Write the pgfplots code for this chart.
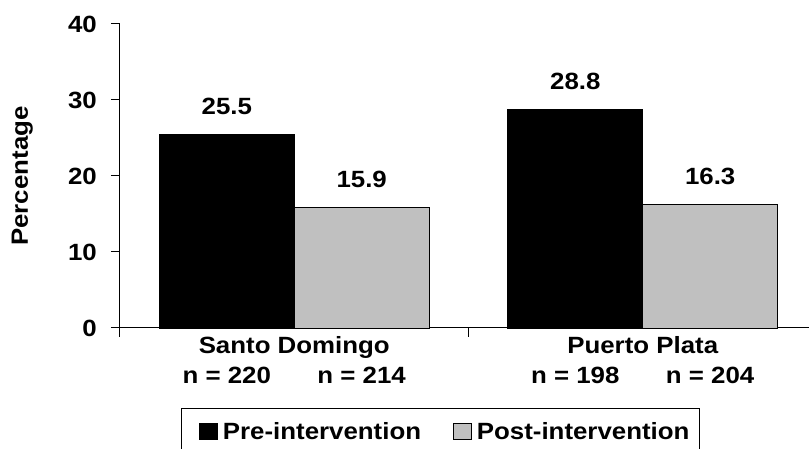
\documentclass[border=0pt]{standalone}
\usepackage{pgfplots}
\pgfplotsset{compat=1.18}
\usepackage{fontspec}
\setmainfont{Liberation Sans}[FakeStretch=1.1]
\definecolor{postgray}{HTML}{C0C0C0}
\newcommand{\lf}{\fontsize{23.5}{28}\selectfont\bfseries}
\begin{document}
\begin{tikzpicture}
\begin{axis}[
  at={(0pt,0pt)}, anchor=south west,
  scale only axis, width=697pt, height=304pt,
  xmin=-0.5, xmax=1.5, ymin=0, ymax=40,
  clip=false,
  axis lines=left, axis line style={-, line width=1pt},
  tick align=outside, major tick length=9pt,
  tick style={line width=1pt, black},
  ytick={0,10,20,30,40},
  yticklabel style={font=\lf, inner sep=0pt, xshift=-14pt},
  xtick={-0.5,0.5,1.5}, xticklabels={},
  extra x ticks={0,1}, extra x tick labels={Santo Domingo, Puerto Plata},
  extra x tick style={major tick length=0pt},
  xticklabel style={font=\lf, anchor=base, inner sep=0pt, yshift=-26pt},
  ylabel={Percentage},
  ylabel style={font=\lf, inner sep=0pt, at={(axis description cs:-0.1248,0.5)}, anchor=south, rotate=0},
  /pgf/number format/assume math mode=true,
  ybar=0pt, bar width=0.387,
  nodes near coords,
  nodes near coords={\pgfmathprintnumber[fixed, fixed zerofill, precision=1]{\pgfplotspointmeta}},
  every node near coord/.append style={font=\lf, anchor=base, yshift=20pt, inner sep=0pt},
  legend columns=2,
  legend style={at={(axis description cs:0.4595,-0.2632)}, anchor=north,
    draw=black, line width=1pt, font=\lf, inner xsep=10pt, inner ysep=14pt,
    nodes={inner sep=0pt, font=\lf},
    cells={anchor=base west},
    /tikz/every odd column/.append style={column sep=5pt},
    /tikz/every even column/.append style={column sep=24pt}},
  mylegend/.style={legend image code/.code={\path (0pt,0pt); \draw[##1, line width=0.8pt] (8pt,0pt) rectangle (26pt,16pt);}},
]
\addplot[fill=black, draw=black, line width=0.8pt, mylegend] coordinates {(0,25.5) (1,28.8)};
\addplot[fill=postgray, draw=black, line width=0.8pt, mylegend] coordinates {(0,15.9) (1,16.3)};
\legend{\lf Pre-intervention, \lf Post-intervention}
\node[font=\lf, anchor=base, inner sep=0pt, yshift=-56pt] at (axis cs:-0.1935,0) {n = 220};
\node[font=\lf, anchor=base, inner sep=0pt, yshift=-56pt] at (axis cs:0.1935,0) {n = 214};
\node[font=\lf, anchor=base, inner sep=0pt, yshift=-56pt] at (axis cs:0.8065,0) {n = 198};
\node[font=\lf, anchor=base, inner sep=0pt, yshift=-56pt] at (axis cs:1.1935,0) {n = 204};
\end{axis}
\pgfresetboundingbox
\useasboundingbox (-120pt,-121pt) rectangle (689pt,328pt);
\end{tikzpicture}
\end{document}
